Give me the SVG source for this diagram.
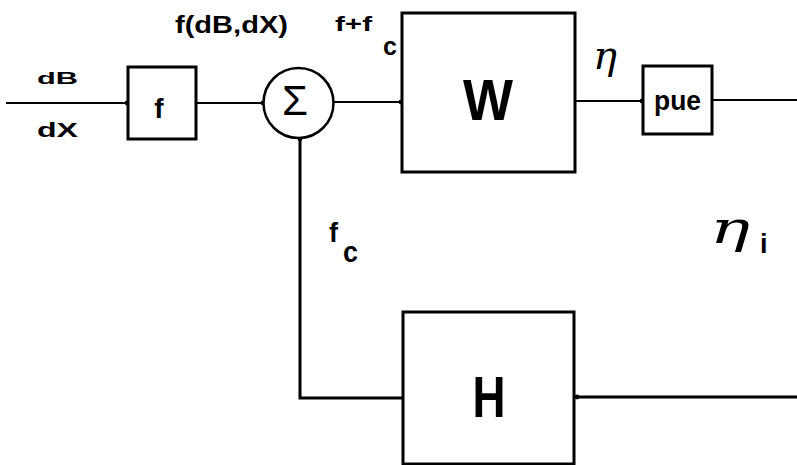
<svg xmlns="http://www.w3.org/2000/svg" width="797" height="465" viewBox="0 0 797 465">
<defs>
<marker id="dot" markerWidth="6" markerHeight="6" refX="3" refY="3" markerUnits="userSpaceOnUse"><circle cx="3" cy="3" r="2.4" fill="#000"/></marker>
</defs>
<style>
.box{fill:#fff;stroke:#000;stroke-width:3}
.ln{fill:none;stroke:#000;stroke-width:2.2}
.t{font-family:"Liberation Sans",Arial,sans-serif;font-weight:bold;fill:#000}
.eta{font-family:"DejaVu Serif",serif;font-style:italic;fill:#000}
</style>
<rect width="797" height="465" fill="#fff"/>
<g id="connectors">
<line class="ln" x1="6" y1="103" x2="127" y2="103" marker-end="url(#dot)"/>
<line class="ln" x1="196" y1="103" x2="263" y2="103" marker-end="url(#dot)"/>
<line class="ln" x1="334" y1="102" x2="401" y2="102" marker-end="url(#dot)"/>
<line class="ln" x1="575" y1="101" x2="642" y2="101" marker-end="url(#dot)"/>
<line class="ln" x1="712" y1="100" x2="797" y2="100"/>
<line class="ln" x1="797" y1="397" x2="577" y2="397" marker-end="url(#dot)" style="stroke-width:3"/>
<polyline class="ln" points="403,398 300,398 300,139" marker-end="url(#dot)" style="stroke-width:3"/>
</g>
<g id="input">
<text class="t" x="37" y="84" font-size="17" textLength="41" lengthAdjust="spacingAndGlyphs">dB</text>
<text class="t" x="37" y="137" font-size="20" textLength="41" lengthAdjust="spacingAndGlyphs">dX</text>
</g>
<g id="node-f">
<rect class="box" x="128" y="67" width="68" height="72"/>
<text class="t" x="159" y="118" font-size="28" text-anchor="middle">f</text>
</g>
<text class="t" x="175" y="33" font-size="23" textLength="113" lengthAdjust="spacingAndGlyphs">f(dB,dX)</text>
<g id="node-sum">
<circle cx="298.5" cy="103" r="35" fill="#fff" stroke="#000" stroke-width="2.5"/>
<text x="295" y="115" font-family="Liberation Sans,Arial,sans-serif" font-size="42" text-anchor="middle">Σ</text>
</g>
<text class="t" x="335" y="31" font-size="20" textLength="37" lengthAdjust="spacingAndGlyphs">f+f</text>
<text class="t" x="383" y="55" font-size="25">c</text>
<g id="node-W">
<rect class="box" x="402" y="13" width="173" height="159"/>
<text class="t" x="488" y="120" font-size="58" text-anchor="middle" textLength="50" lengthAdjust="spacingAndGlyphs">W</text>
</g>
<text class="eta" x="593" y="69" font-size="40">η</text>
<g id="node-pue">
<rect class="box" x="643" y="66" width="69" height="68"/>
<text class="t" x="654" y="110" font-size="27" textLength="47" lengthAdjust="spacingAndGlyphs">pue</text>
</g>
<text class="t" x="329" y="242" font-size="27">f</text>
<text class="t" x="343" y="262" font-size="30" textLength="15" lengthAdjust="spacingAndGlyphs">c</text>
<text class="eta" x="710" y="243" font-size="44" textLength="40" lengthAdjust="spacingAndGlyphs">η</text>
<text class="t" x="760" y="253" font-size="27">i</text>
<g id="node-H">
<rect class="box" x="403" y="312" width="171" height="152"/>
<text class="t" x="489" y="417" font-size="58" text-anchor="middle" textLength="33" lengthAdjust="spacingAndGlyphs">H</text>
</g>
</svg>
